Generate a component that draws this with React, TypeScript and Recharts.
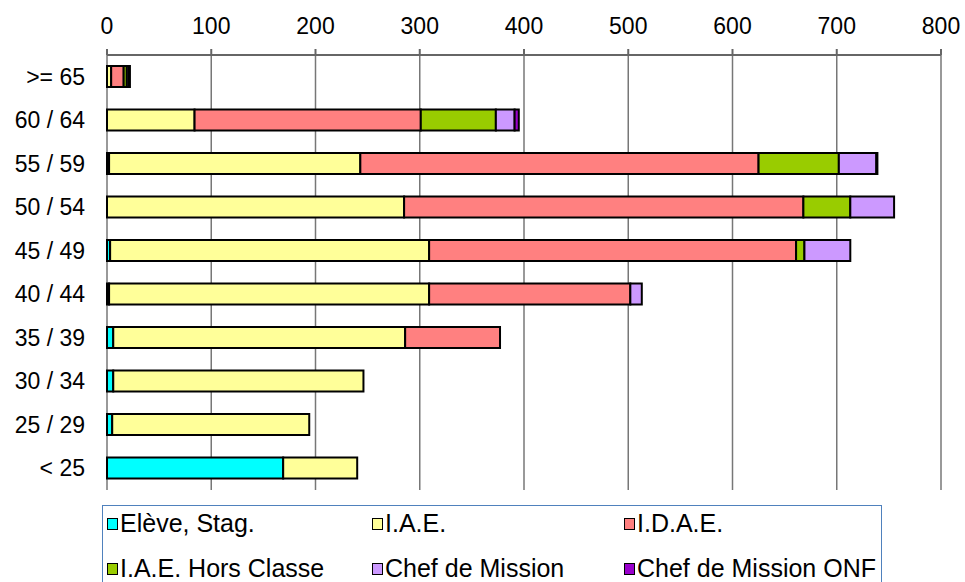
import React from 'react';
import { BarChart, Bar, XAxis, YAxis, CartesianGrid } from 'recharts';

// age groups, top to bottom
const ages = ['>= 65', '60 / 64', '55 / 59', '50 / 54', '45 / 49', '40 / 44', '35 / 39', '30 / 34', '25 / 29', '< 25'];

const eleve = [0, 0, 2, 0, 3, 2, 6, 6, 5, 169];
const iae = [4, 84, 241, 285, 306, 307, 280, 240, 189, 71];
const idae = [12, 217, 382, 383, 352, 193, 91, 0, 0, 0];
const horsClasse = [3, 72, 77, 45, 8, 0, 0, 0, 0, 0];
const chefMission = [2, 18, 36, 42, 44, 11, 0, 0, 0, 0];
const chefMissionOnf = [1, 4, 1, 0, 0, 0, 0, 0, 0, 0];

const xTicks = [0, 100, 200, 300, 400, 500, 600, 700, 800];
const bandTicks = [0, 1, 2, 3, 4, 5, 6, 7, 8, 9, 10];

const series = [
  { key: 'eleve', name: 'Elève, Stag.', color: '#00FFFF' },
  { key: 'iae', name: 'I.A.E.', color: '#FFFF99' },
  { key: 'idae', name: 'I.D.A.E.', color: '#FF8080' },
  { key: 'hc', name: 'I.A.E. Hors Classe', color: '#99CC00' },
  { key: 'cm', name: 'Chef de Mission', color: '#CC99FF' },
  { key: 'onf', name: 'Chef de Mission ONF', color: '#9900CC' },
];

const data = ages.map((age, i) => ({
  age,
  eleve: eleve[i],
  iae: iae[i],
  idae: idae[i],
  hc: horsClasse[i],
  cm: chefMission[i],
  onf: chefMissionOnf[i],
}));

const font = { fontFamily: '"Liberation Sans", Arial, sans-serif', fontSize: 23, fill: '#000' };

const legendPos = [
  { left: 4, top: 3 },
  { left: 269, top: 3 },
  { left: 521, top: 3 },
  { left: 4, top: 48 },
  { left: 269, top: 48 },
  { left: 521, top: 48 },
];

export default function App() {
  return (
    <div style={{ position: 'absolute', left: 0, top: 0, width: 965, height: 582, overflow: 'hidden', background: '#fff' }}>
      <BarChart
        width={965}
        height={500}
        data={data}
        layout="vertical"
        margin={{ top: 15, right: 24, left: 0, bottom: 10 }}
      >
        <CartesianGrid horizontal={false} stroke="#777" strokeWidth={1.5} />
        <XAxis
          type="number"
          orientation="top"
          domain={[0, 800]}
          ticks={xTicks}
          height={40}
          tick={font}
          tickSize={6}
          tickMargin={15}
          stroke="#666"
          strokeWidth={2}
          interval={0}
        />
        <XAxis
          xAxisId="bottom"
          type="number"
          orientation="bottom"
          domain={[0, 800]}
          height={0}
          tick={false}
          tickLine={false}
          stroke="#888"
          strokeWidth={2}
        />
        <YAxis
          yAxisId="bands"
          type="number"
          domain={[0, 10]}
          ticks={bandTicks}
          width={0}
          tick={false}
          tickSize={7}
          stroke="#000"
        />
        <YAxis
          type="category"
          dataKey="age"
          width={107}
          tick={font}
          tickLine={false}
          axisLine={false}
          tickSize={0}
          tickMargin={22}
          interval={0}
        />
        {series.map((s) => (
          <Bar
            key={s.key}
            dataKey={s.key}
            name={s.name}
            stackId="a"
            fill={s.color}
            stroke="#000"
            strokeWidth={2}
            barSize={21}
            isAnimationActive={false}
          />
        ))}
      </BarChart>
      <div
        style={{
          position: 'absolute',
          left: 102,
          top: 505,
          width: 778,
          height: 100,
          border: '1.5px solid #4F81BD',
          fontFamily: '"Liberation Sans", Arial, sans-serif',
          fontSize: 25,
        }}
      >
        {series.map((s, i) => (
          <div
            key={s.key}
            style={{ position: 'absolute', left: legendPos[i].left, top: legendPos[i].top, display: 'flex', alignItems: 'center', whiteSpace: 'nowrap' }}
          >
            <span
              style={{ display: 'inline-block', width: 9, height: 10, background: s.color, border: '1.5px solid #000', marginRight: 2 }}
            />
            <span>{s.name}</span>
          </div>
        ))}
      </div>
    </div>
  );
}
